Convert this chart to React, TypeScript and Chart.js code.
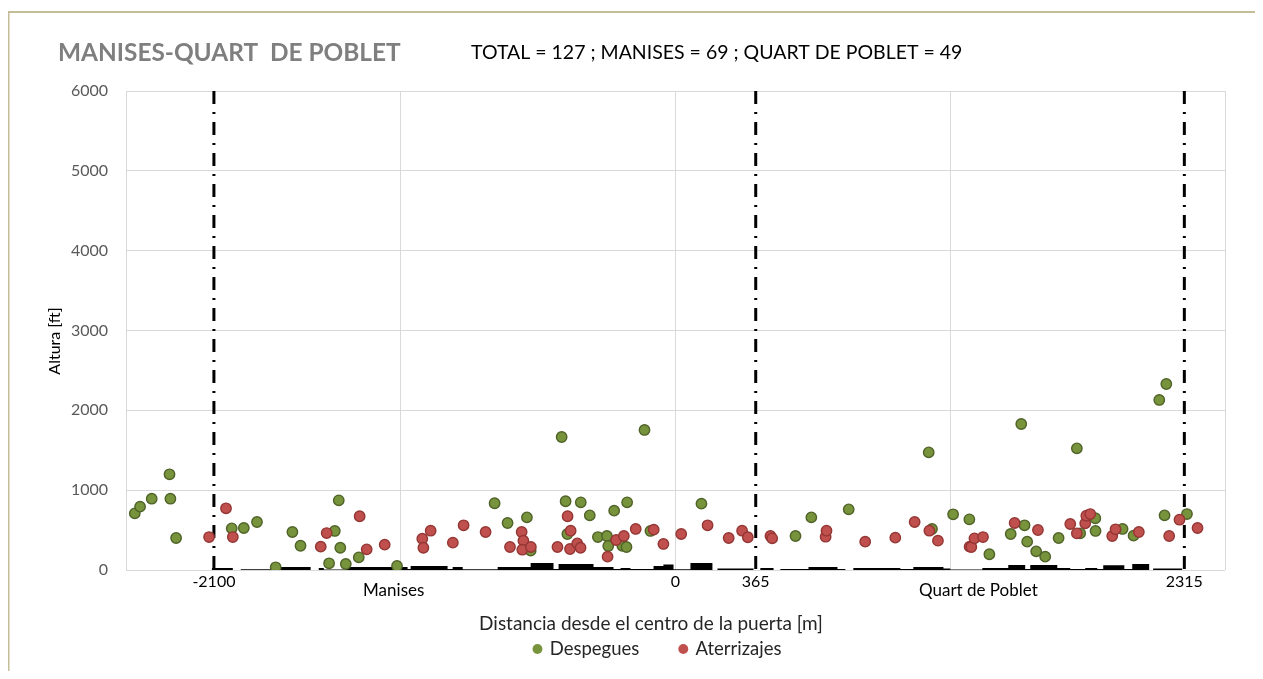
import React, { useEffect, useRef } from 'react';
import { Chart, registerables } from 'chart.js';

Chart.register(...registerables);

// ---- Data ----
const despeguesX = [-2460, -2436, -2383, -2302, -2298, -2272, -2019, -1964, -1904, -1819, -1743, -1706, -1550, -1532, -1525, -1576, -1500, -1441, -1267, -823, -764, -676, -659, -500, -431, -390, -492, -353, -312, -279, -220, -306, -242, -223, -114, 118, 546, 618, 788, 1167, 1152, 1263, 1337, 1428, 1525, 1588, 1600, 1641, 1682, 1743, 1841, 1910, 1911, 2034, 2084, 2225, 2327, 1826, -518, -141, 1573, 2201, 2233];
const despeguesY = [710, 793, 893, 1199, 893, 401, 522, 526, 601, 34, 476, 304, 489, 873, 279, 84, 75, 159, 50, 836, 589, 660, 242, 861, 848, 685, 451, 413, 426, 743, 848, 301, 304, 288, 489, 831, 426, 660, 760, 514, 1474, 698, 635, 197, 451, 560, 355, 234, 167, 401, 460, 648, 489, 514, 430, 685, 701, 1524, 1666, 1754, 1829, 2130, 2330];

const aterrizajesX = [-2122, -2045, -2014, -1614, -1587, -1437, -1405, -1323, -1152, -1147, -1114, -1013, -964, -864, -753, -700, -692, -697, -658, -537, -491, -477, -480, -447, -432, -309, -270, -235, -181, -99, -55, 26, 146, 242, 303, 329, 432, 440, 683, 687, 863, 1000, 1088, 1155, 1194, 1338, 1346, 1360, 1399, 1543, 1649, 1796, 1826, 1864, 1869, 1887, 1987, 2002, 2108, 2246, 2293, 2375];
const aterrizajesY = [413, 773, 413, 292, 463, 673, 259, 317, 392, 279, 492, 342, 560, 476, 288, 476, 367, 254, 288, 288, 673, 492, 263, 334, 279, 167, 376, 426, 514, 505, 326, 451, 560, 401, 492, 410, 426, 397, 417, 492, 355, 405, 601, 492, 367, 292, 288, 397, 413, 589, 501, 576, 460, 585, 680, 701, 426, 510, 476, 426, 630, 526];

// ground / building profile (m, ft)
const terrainX = [-2110, -2014, -1978, -1841, -1819, -1660, -1623, -1600, -1500, -1219, -1205, -1037, -1014, -968, -809, -659, -555, -532, -373, -282, -250, -205, -100, -55, -9, 68, 168, 191, 355, 386, 446, 477, 605, 737, 773, 809, 1023, 1082, 1219, 1250, 1396, 1514, 1591, 1614, 1737, 1796, 1864, 1919, 1946, 2042, 2078, 2155, 2173, 2305, 2315];
const terrainY = [25, 0, 10, 0, 38, 0, 25, 5, 38, 12, 50, 12, 38, 10, 38, 88, 12, 75, 38, 12, 25, 12, 50, 70, 10, 88, 0, 18, 0, 25, 0, 12, 38, 12, 0, 25, 12, 38, 20, 6, 25, 63, 12, 63, 25, 12, 25, 12, 60, 12, 75, 0, 18, 0, 0];

const gateLines = [-2100, 365, 2315];
const gateTicks = [-2100, 0, 365, 2315];
const gridTicksX = [-2500, -1250, 0, 1250, 2500];
const regionNames = ['Manises', 'Quart de Poblet'];
const regionCenters = [-1282, 1378];

const titleText = 'MANISES-QUART  DE POBLET';
const subtitleText = 'TOTAL = 127 ; MANISES = 69 ; QUART DE POBLET = 49';
const xTitle = 'Distancia desde el centro de la puerta [m]';
const yTitle = 'Altura [ft]';

const FONT = 'Lato';

const toPts = (xs: number[], ys: number[]) => xs.map((x, i) => ({ x, y: ys[i] }));

const decorPlugin = {
  id: 'decor',
  afterLayout(chart: any) {
    if (chart.legend) chart.legend.left = 83;
  },
  beforeDraw(chart: any) {
    const { ctx, width, height } = chart;
    ctx.save();
    ctx.fillStyle = '#ffffff';
    ctx.fillRect(0, 0, width, height);
    ctx.strokeStyle = '#C4BD97';
    ctx.lineWidth = 2;
    ctx.beginPath();
    ctx.moveTo(0.5, height);
    ctx.lineTo(0.5, 4);
    ctx.lineTo(width, 4);
    ctx.stroke();
    ctx.restore();
  },
  afterDraw(chart: any) {
    const { ctx } = chart;
    const xs = chart.scales.x;
    ctx.save();
    ctx.textBaseline = 'middle';
    ctx.textAlign = 'left';
    ctx.fillStyle = '#7F7F7F';
    ctx.font = `bold 24.4px ${FONT}`;
    ctx.fillText(titleText, 50, 45);
    ctx.fillStyle = '#000000';
    ctx.font = `19.5px ${FONT}`;
    ctx.fillText(subtitleText, 463, 45);
    ctx.textAlign = 'center';
    ctx.font = `17px ${FONT}`;
    ctx.fillStyle = '#000000';
    regionNames.forEach((name, i) => {
      ctx.fillText(name, xs.getPixelForValue(regionCenters[i]), 583);
    });
    ctx.font = `19px ${FONT}`;
    ctx.fillStyle = '#262626';
    ctx.fillText(xTitle, 643, 616);
    ctx.translate(47, 333);
    ctx.rotate(-Math.PI / 2);
    ctx.font = `16px ${FONT}`;
    ctx.fillStyle = '#000000';
    ctx.fillText(yTitle, 0, 0);
    ctx.restore();
  },
};

export default function App() {
  const ref = useRef<HTMLCanvasElement | null>(null);

  useEffect(() => {
    if (!ref.current) return;
    const datasets: any[] = [
      {
        label: 'Despegues',
        data: toPts(despeguesX, despeguesY),
        backgroundColor: '#77933C',
        borderColor: '#4F6228',
        borderWidth: 1.4,
        pointRadius: 5.2,
        showLine: false,
        order: 1,
      },
      {
        label: 'Aterrizajes',
        data: toPts(aterrizajesX, aterrizajesY),
        backgroundColor: '#C0504D',
        borderColor: '#943634',
        borderWidth: 1.4,
        pointRadius: 5.2,
        showLine: false,
        order: 0,
      },
      ...gateLines.map((g) => ({
        label: 'gate',
        data: [
          { x: g, y: 6000 },
          { x: g, y: 0 },
        ],
        showLine: true,
        borderColor: '#000000',
        borderWidth: 3,
        borderDash: [13, 8, 2, 8],
        pointRadius: 0,
        fill: false,
        order: 2,
      })),
      {
        label: 'terreno',
        data: toPts(terrainX, terrainY),
        showLine: true,
        stepped: true,
        fill: 'origin',
        backgroundColor: '#000000',
        borderColor: 'rgba(0,0,0,0)',
        borderWidth: 0,
        pointRadius: 0,
        order: 3,
      },
    ];

    const chart = new Chart(ref.current, {
      type: 'scatter',
      data: { datasets },
      plugins: [decorPlugin],
      options: {
        animation: false,
        responsive: true,
        maintainAspectRatio: false,
        layout: { padding: { top: 83, right: 38, left: 0, bottom: 10.75 } },
        plugins: {
          tooltip: { enabled: false },
          legend: {
            position: 'bottom',
            labels: {
              usePointStyle: true,
              pointStyle: 'circle',
              boxWidth: 6,
              boxHeight: 7,
              padding: 41,
              color: '#262626',
              font: { family: FONT, size: 18.5 },
              generateLabels: (c: any) =>
                Chart.defaults.plugins.legend.labels
                  .generateLabels(c)
                  .map((l: any) => ({ ...l, strokeStyle: l.fillStyle, lineWidth: 0 })),
              filter: (item: any) => item.datasetIndex < 2,
              sort: (a: any, b: any) => a.datasetIndex - b.datasetIndex,
            },
          },
        },
        scales: {
          x: {
            type: 'linear',
            position: 'bottom',
            min: -2500,
            max: 2500,
            afterBuildTicks: (ax: any) => {
              ax.ticks = gridTicksX.map((v) => ({ value: v }));
            },
            ticks: { display: false },
            grid: { color: '#D9D9D9', drawTicks: false, lineWidth: 1 },
            border: { display: false },
            afterFit: (ax: any) => {
              ax.height = 0;
            },
          },
          x2: {
            type: 'linear',
            position: 'bottom',
            min: -2500,
            max: 2500,
            afterBuildTicks: (ax: any) => {
              ax.ticks = gateTicks.map((v) => ({ value: v }));
            },
            ticks: {
              autoSkip: false,
              maxRotation: 0,
              padding: 2,
              color: '#000000',
              font: { family: FONT, size: 16 },
              callback: (v: any) => String(v),
            },
            grid: { display: false, drawTicks: false },
            border: { display: false },
            afterFit: (ax: any) => {
              ax.height = 28.75;
            },
          },
          y: {
            type: 'linear',
            min: 0,
            max: 6000,
            ticks: {
              stepSize: 1000,
              padding: 18,
              color: '#595959',
              font: { family: FONT, size: 16 },
              callback: (v: any) => String(v),
            },
            grid: { color: '#D9D9D9', drawTicks: false, lineWidth: 1 },
            border: { display: false },
            afterFit: (ax: any) => {
              ax.width = 118;
            },
          },
        },
      } as any,
    });
    return () => chart.destroy();
  }, []);

  return (
    <div style={{ width: 1255, height: 671, marginRight: -8, marginBottom: -8, position: 'relative' }}>
      <canvas ref={ref} />
    </div>
  );
}
